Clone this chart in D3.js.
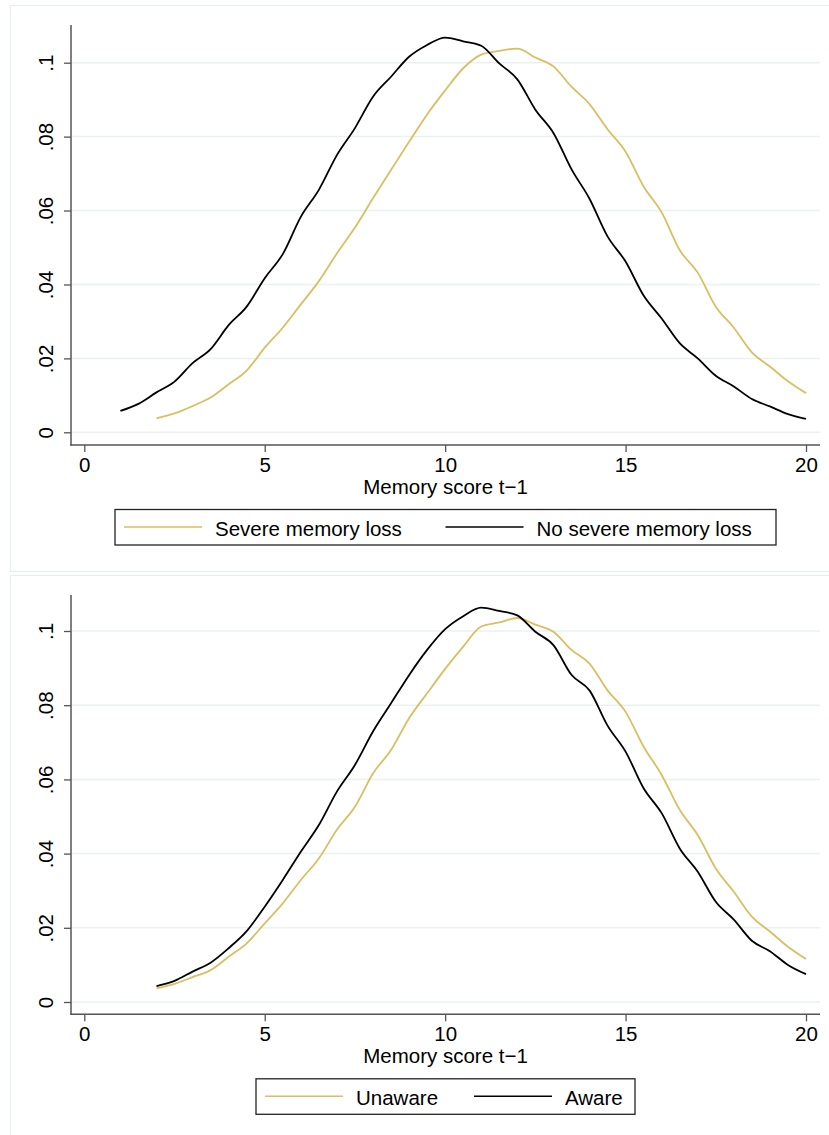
<!DOCTYPE html>
<html>
<head>
<meta charset="utf-8">
<script src="https://cdn.jsdelivr.net/npm/d3@7"></script>
<style>
  body { margin: 0; background: #fff; }
  svg { display: block; font-family: "Liberation Sans", Arial, Helvetica, sans-serif; }
</style>
</head>
<body>
<svg id="chart" width="829" height="1135"></svg>
<script>
// memory score grid (x values) for each curve
const scoreFrom1 = d3.range(1, 20.01, 0.5);
const scoreFrom2 = d3.range(2, 20.01, 0.5);

// top panel: density by severe memory loss
const severeLoss = [0.0038, 0.0051, 0.0071, 0.0094, 0.0130, 0.0167, 0.0229, 0.0283, 0.0346, 0.0409,
  0.0484, 0.0554, 0.0633, 0.0710, 0.0786, 0.0860, 0.0925, 0.0985, 0.1022, 0.1032,
  0.1038, 0.1014, 0.0990, 0.0935, 0.0888, 0.0820, 0.0759, 0.0665, 0.0595, 0.0493,
  0.0432, 0.0340, 0.0283, 0.0216, 0.0178, 0.0138, 0.0106];
const noSevereLoss = [0.0058, 0.0077, 0.0108, 0.0137, 0.0187, 0.0225, 0.0290, 0.0340, 0.0417, 0.0482,
  0.0583, 0.0656, 0.0750, 0.0823, 0.0908, 0.0962, 0.1016, 0.1048, 0.1068, 0.1058,
  0.1046, 0.0998, 0.0955, 0.0873, 0.0810, 0.0712, 0.0632, 0.0530, 0.0462, 0.0370,
  0.0308, 0.0241, 0.0200, 0.0153, 0.0124, 0.0090, 0.0070, 0.0049, 0.0036];

// bottom panel: density by awareness
const unaware = [0.0037, 0.0049, 0.0067, 0.0086, 0.0122, 0.0158, 0.0212, 0.0266, 0.0329, 0.0387,
  0.0464, 0.0526, 0.0616, 0.0679, 0.0765, 0.0832, 0.0898, 0.0958, 0.1012, 0.1023,
  0.1035, 0.1017, 0.0998, 0.0949, 0.0912, 0.0840, 0.0782, 0.0688, 0.0612, 0.0518,
  0.0450, 0.0360, 0.0297, 0.0230, 0.0190, 0.0149, 0.0116];
const aware = [0.0043, 0.0057, 0.0082, 0.0106, 0.0145, 0.0191, 0.0257, 0.0329, 0.0405, 0.0477,
  0.0567, 0.0639, 0.0729, 0.0805, 0.0881, 0.0949, 0.1005, 0.1040, 0.1063, 0.1054,
  0.1042, 0.0998, 0.0962, 0.0882, 0.0840, 0.0745, 0.0675, 0.0576, 0.0509, 0.0414,
  0.0351, 0.0270, 0.0222, 0.0165, 0.0137, 0.0100, 0.0075];

const xTicks = [0, 5, 10, 15, 20];
const yTicks = [0, 0.02, 0.04, 0.06, 0.08, 0.1];
const xTitle = "Memory score t\u22121";

const gold = "#d7bf62";
const gridColor = "#eaf1f3";
const axisColor = "#555";

const svg = d3.select("#chart");

const fmtY = d => d === 0 ? "0" : d3.format(".2~f")(d).replace(/^0/, "");

/**
 * Draws one panel: frame, grid, axes, two density curves and the legend.
 */
function drawPanel(p) {
    const g = svg.append("g");

    // outer frame of the graph
    g.append("rect")
        .attr("x", 10.5).attr("y", p.frameTop + 0.5)
        .attr("width", 830).attr("height", p.frameHeight)
        .attr("fill", "#fff").attr("stroke", "#e6eef0").attr("stroke-width", 1.2);

    const x = d3.scaleLinear().domain([0, 20]).range([84.3, 806]);
    const y = d3.scaleLinear().domain([0, 0.1]).range([p.zeroY, p.tenthY]);

    // gridlines
    g.append("g").selectAll("line")
        .data(yTicks)
        .join("line")
        .attr("x1", 72).attr("x2", 820)
        .attr("y1", d => y(d)).attr("y2", d => y(d))
        .attr("stroke", gridColor).attr("stroke-width", 1.5);

    // curves
    const line = d3.line().curve(d3.curveMonotoneX).x(d => x(d[0])).y(d => y(d[1]));
    p.series.forEach(s => {
        g.append("path")
            .datum(s.xs.map((v, i) => [v, s.values[i]]))
            .attr("d", line)
            .attr("fill", "none")
            .attr("stroke", s.color)
            .attr("stroke-width", 1.8)
            .attr("stroke-linejoin", "round");
    });

    // y axis
    const yAxis = g.append("g")
        .attr("transform", "translate(71,0)")
        .call(d3.axisLeft(y).tickValues(yTicks).tickFormat(fmtY).tickSize(7));
    yAxis.select(".domain").remove();
    yAxis.selectAll(".tick line").attr("stroke", axisColor).attr("stroke-width", 1.3);
    yAxis.selectAll(".tick text")
        .attr("transform", "rotate(-90)")
        .attr("x", 0).attr("y", -17.7).attr("dy", null)
        .attr("text-anchor", "middle")
        .attr("font-size", 20.5).attr("fill", "#000");
    g.append("line")
        .attr("x1", 71).attr("x2", 71)
        .attr("y1", p.plotTop).attr("y2", p.axisY + 0.7)
        .attr("stroke", axisColor).attr("stroke-width", 1.5);

    // x axis
    const xAxis = g.append("g")
        .attr("transform", `translate(0,${p.axisY})`)
        .call(d3.axisBottom(x).tickValues(xTicks).tickSize(7));
    xAxis.select(".domain").remove();
    xAxis.selectAll(".tick line").attr("stroke", axisColor).attr("stroke-width", 1.3);
    xAxis.selectAll(".tick text")
        .attr("y", 27).attr("dy", null)
        .attr("font-size", 20.5).attr("fill", "#000");
    g.append("line")
        .attr("x1", 70.3).attr("x2", 820)
        .attr("y1", p.axisY).attr("y2", p.axisY)
        .attr("stroke", axisColor).attr("stroke-width", 1.5);

    g.append("text")
        .attr("x", 445.5).attr("y", p.axisY + 48.5)
        .attr("text-anchor", "middle")
        .attr("font-size", 20.5)
        .text(xTitle);

    // legend
    const top = p.axisY + 64.5;
    g.append("rect")
        .attr("x", p.legend.left).attr("y", top)
        .attr("width", p.legend.right - p.legend.left).attr("height", 35.5)
        .attr("fill", "#fff").attr("stroke", "#222").attr("stroke-width", 1.3);
    p.series.forEach((s, i) => {
        const lx = p.legend.keys[i];
        g.append("line")
            .attr("x1", lx).attr("x2", lx + 78)
            .attr("y1", top + 17.5).attr("y2", top + 17.5)
            .attr("stroke", s.color).attr("stroke-width", 1.6);
        g.append("text")
            .attr("x", lx + 91).attr("y", top + 26)
            .attr("font-size", 20.5)
            .text(s.name);
    });
}

drawPanel({
    frameTop: 5, frameHeight: 566,
    plotTop: 25, axisY: 445, zeroY: 432.3, tenthY: 62.7,
    legend: {left: 115, right: 776, keys: [124, 445.5]},
    series: [
        {name: "Severe memory loss", xs: scoreFrom2, values: severeLoss, color: gold},
        {name: "No severe memory loss", xs: scoreFrom1, values: noSevereLoss, color: "#000"}
    ]
});

drawPanel({
    frameTop: 575, frameHeight: 600,
    plotTop: 595, axisY: 1014.3, zeroY: 1002, tenthY: 631,
    legend: {left: 256, right: 635, keys: [265, 474]},
    series: [
        {name: "Unaware", xs: scoreFrom2, values: unaware, color: gold},
        {name: "Aware", xs: scoreFrom2, values: aware, color: "#000"}
    ]
});
</script>
</body>
</html>
